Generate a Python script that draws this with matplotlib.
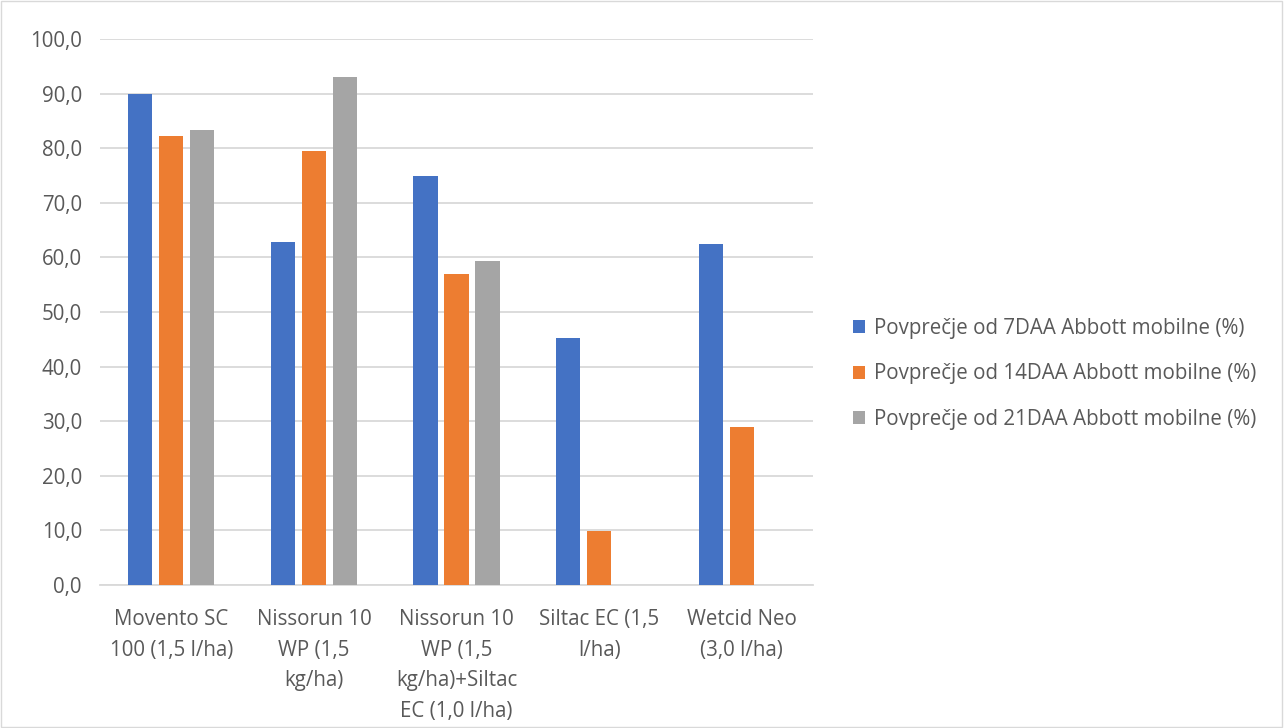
import numpy as np
import matplotlib.pyplot as plt
from matplotlib.patches import Rectangle

categories = ['Movento SC\n100 (1,5 l/ha)', 'Nissorun 10\nWP (1,5\nkg/ha)',
              'Nissorun 10\nWP (1,5\nkg/ha)+Siltac\nEC (1,0 l/ha)',
              'Siltac EC (1,5\nl/ha)', 'Wetcid Neo\n(3,0 l/ha)']
series_names = ['Povprečje od 7DAA Abbott mobilne (%)',
                'Povprečje od 14DAA Abbott mobilne (%)',
                'Povprečje od 21DAA Abbott mobilne (%)']
daa7 = [90.0, 62.9, 75.0, 45.3, 62.4]
daa14 = [82.2, 79.5, 56.9, 9.9, 29.0]
daa21 = [83.4, 93.0, 59.3, np.nan, np.nan]

colors = ['#4472c4', '#ed7d31', '#a5a5a5']
text_color = '#595959'
grid_color = '#d9d9d9'

plt.rcParams['font.family'] = ['Open Sans', 'DejaVu Sans']
fs = 14.8

fig = plt.figure(figsize=(12.85, 7.28), dpi=100)
ax = fig.add_axes([100 / 1285, 1 - 585 / 728, 713 / 1285, 546 / 728])

x = np.arange(len(categories))
w = 0.17
step = 0.217
for i, (vals, col, name) in enumerate(zip([daa7, daa14, daa21], colors, series_names)):
    ax.bar(x + (i - 1) * step, vals, width=w, color=col, label=name, zorder=3)

ax.set_xlim(-0.5, len(categories) - 0.5)
ax.set_ylim(0, 100)
ax.set_yticks(np.arange(0, 101, 10))
ax.set_yticklabels([f'{v:.1f}'.replace('.', ',') for v in np.arange(0, 101, 10)])
ax.set_xticks(x)
ax.set_xticklabels(categories, linespacing=1.62)
ax.tick_params(axis='both', length=0, labelsize=fs, labelcolor=text_color)
ax.tick_params(axis='y', pad=13)
ax.tick_params(axis='x', pad=17)
ax.grid(axis='y', color=grid_color, linewidth=1.3, zorder=0)
for s in ['top', 'right', 'left']:
    ax.spines[s].set_visible(False)
ax.spines['bottom'].set_color(grid_color)
ax.spines['bottom'].set_linewidth(1.3)

leg = fig.legend(loc='center left', bbox_to_anchor=(834 / 1285, 1 - 374 / 728),
                 frameon=False, fontsize=fs, labelspacing=1.2,
                 handlelength=0.6, handleheight=0.6, handletextpad=0.45)
for t in leg.get_texts():
    t.set_color(text_color)

fig.patches.append(Rectangle((0.001, 0.001), 0.997, 0.997, transform=fig.transFigure,
                             fill=False, edgecolor=grid_color, linewidth=1))

fig.savefig('out.png', dpi=100, facecolor='white')
